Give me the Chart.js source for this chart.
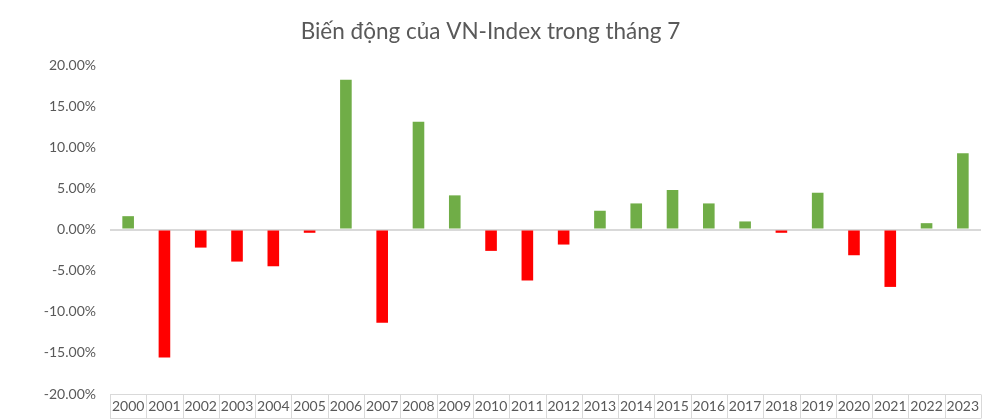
<!DOCTYPE html>
<html>
<head>
<meta charset="utf-8">
<script src="https://cdn.jsdelivr.net/npm/chart.js@4"></script>
<style>
  html, body { margin: 0; padding: 0; background: #fff; }
  #wrap { width: 1000px; height: 419px; }
</style>
</head>
<body>
<div id="wrap"><canvas id="vnChart"></canvas></div>
<script>
// ================= DATA =================
const years = ['2000','2001','2002','2003','2004','2005','2006','2007','2008','2009','2010','2011',
               '2012','2013','2014','2015','2016','2017','2018','2019','2020','2021','2022','2023'];
const changes = [1.62, -15.57, -2.2, -3.9, -4.47, -0.4, 18.2, -11.34, 13.1, 4.15, -2.6, -6.2,
                 -1.83, 2.28, 3.17, 4.8, 3.17, 0.98, -0.4, 4.47, -3.13, -6.98, 0.77, 9.27];
const yTicks = [-20, -15, -10, -5, 0, 5, 10, 15, 20];

const GREEN = '#70AD47';
const RED = '#FF0000';
const LINE = '#d9d9d9';
const TEXT = '#595959';
const FONT = 'Lato, "Open Sans", sans-serif';
const BOX_H = 24;

// ================= BOXES UNDER CATEGORY LABELS =================
const labelBox = {
    id: 'labelBox',
    afterDraw(chart) {
        const x = chart.scales.x;
        const ctx = chart.ctx;
        const step = (x.right - x.left) / years.length;
        const top = Math.round(x.top) + 0.5;
        const bottom = top + BOX_H;
        ctx.save();
        ctx.strokeStyle = LINE;
        ctx.lineWidth = 1;
        ctx.beginPath();
        ctx.moveTo(x.left, top);
        ctx.lineTo(x.right, top);
        ctx.moveTo(x.left, bottom);
        ctx.lineTo(x.right, bottom);
        for (let i = 0; i <= years.length; i++) {
            const px = Math.round(x.left + i * step) + 0.5;
            ctx.moveTo(px, top);
            ctx.lineTo(px, bottom);
        }
        ctx.stroke();
        ctx.restore();
    }
};

new Chart(document.getElementById('vnChart'), {
    type: 'bar',
    data: {
        labels: years,
        datasets: [{
            data: changes,
            backgroundColor: changes.map(v => v >= 0 ? GREEN : RED),
            categoryPercentage: 1,
            barPercentage: 0.32
        }]
    },
    options: {
        responsive: true,
        maintainAspectRatio: false,
        animation: false,
        layout: { padding: { left: 0, right: 19, top: 0, bottom: 0 } },
        plugins: {
            legend: { display: false },
            tooltip: { enabled: false },
            title: {
                display: true,
                text: 'Biến động của VN-Index trong tháng 7',
                color: TEXT,
                font: { family: FONT, size: 22.5, weight: 'normal' },
                padding: { top: 18, bottom: 20 }
            }
        },
        scales: {
            x: {
                afterFit: axis => { axis.height = 25; },
                grid: { display: false, drawTicks: false },
                border: { display: false },
                ticks: {
                    color: TEXT,
                    font: { family: FONT, size: 14 },
                    padding: 4,
                    maxRotation: 0,
                    autoSkip: false
                }
            },
            y: {
                min: -20,
                max: 20,
                afterBuildTicks: axis => { axis.ticks = yTicks.map(v => ({ value: v })); },
                afterFit: axis => { axis.width = 110; },
                grid: {
                    drawTicks: false,
                    color: c => c.tick && c.tick.value === 0 ? LINE : 'transparent',
                    lineWidth: c => c.tick && c.tick.value === 0 ? 2 : 0
                },
                border: { display: false },
                ticks: {
                    color: TEXT,
                    font: { family: FONT, size: 14 },
                    padding: 14,
                    callback: v => v.toFixed(2) + '%'
                }
            }
        }
    },
    plugins: [labelBox]
});
</script>
</body>
</html>
